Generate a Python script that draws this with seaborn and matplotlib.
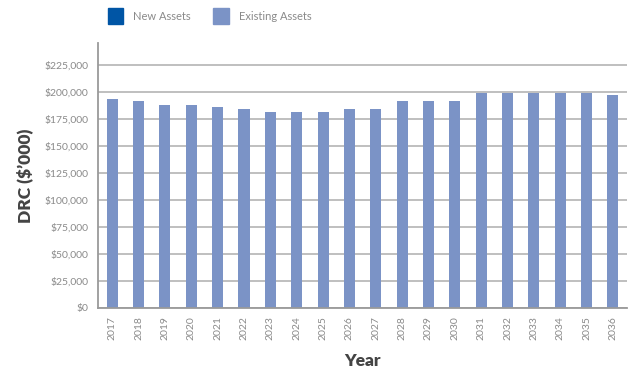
import matplotlib
matplotlib.use("Agg")
import matplotlib.pyplot as plt
import matplotlib.patches as mpatches
import matplotlib.ticker as mticker
import seaborn as sns
import pandas as pd

# Data
years = [str(y) for y in range(2017, 2037)]
existing_assets = [193000, 191000, 187500, 187500, 186000, 183500, 181000, 181000, 181000, 183500,
                   183500, 191000, 191000, 191000, 198500, 198500, 198500, 198500, 198500, 196500]
new_assets = [0] * len(years)
y_ticks = [0, 25000, 50000, 75000, 100000, 125000, 150000, 175000, 200000, 225000]

df = pd.DataFrame({"Year": years, "Existing": existing_assets, "New": new_assets})

new_color = "#0055a5"
existing_color = "#7b93c6"
grey = "#8a8a8a"
dark = "#444444"

sns.set_style("white")
plt.rcParams["font.family"] = ["Lato", "DejaVu Sans"]

fig = plt.figure(figsize=(6.3, 3.7), dpi=100)
ax = fig.add_axes([0.156, 0.168, 0.839, 0.716])

sns.barplot(data=df, x="Year", y="Existing", color=existing_color, width=0.42,
            saturation=1, linewidth=0, ax=ax)
for p in ax.patches:
    p.set_zorder(3)

ax.set_ylim(0, 245000)
ax.set_xlim(-0.53, len(years) - 0.47)
ax.set_yticks(y_ticks)
ax.yaxis.set_major_formatter(mticker.FuncFormatter(lambda v, p: f"${v:,.0f}"))
ax.yaxis.grid(True, color="#b4b4b4", lw=1.2)
ax.set_axisbelow(True)

for s in ["top", "right"]:
    ax.spines[s].set_visible(False)
for s in ["left", "bottom"]:
    ax.spines[s].set_color("#9a9a9a")
    ax.spines[s].set_linewidth(1.3)
    ax.spines[s].set_zorder(4)

ax.tick_params(axis="y", length=4, width=1, color="#9a9a9a", labelcolor=grey, labelsize=7.5, pad=3)
ax.tick_params(axis="x", length=0, labelcolor=grey, labelsize=7.5, rotation=90, pad=6)

ax.set_xlabel("Year", fontsize=12.5, fontweight="heavy", color=dark, labelpad=9)
ax.set_ylabel("DRC ($\u2019000)", fontsize=12.5, fontweight="heavy", color=dark, labelpad=8)

handles = [mpatches.Patch(color=new_color, label="New Assets"),
           mpatches.Patch(color=existing_color, label="Existing Assets")]
leg = fig.legend(handles=handles, loc="upper left", bbox_to_anchor=(0.155, 1.005), ncol=2,
                 frameon=False, fontsize=8, handlelength=1.4, handleheight=1.8,
                 handletextpad=0.9, columnspacing=2.0)
for t in leg.get_texts():
    t.set_color(grey)

fig.savefig("out.png", dpi=100)
